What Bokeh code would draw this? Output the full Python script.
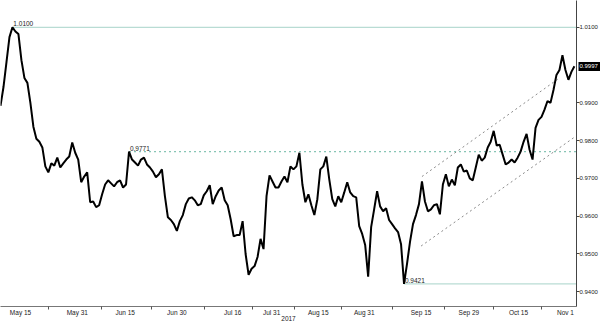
import numpy as np
from bokeh.plotting import figure
from bokeh.models import Range1d, FixedTicker, PrintfTickFormatter, LinearAxis
from bokeh.core.properties import value
from bokeh.embed import file_html
from bokeh.resources import INLINE

# Hourly-ish closes of the pair, one value per bar (bar index = x)
closes = [
    0.9892, 0.9942, 1.0008, 1.0074, 1.0100, 1.0089, 1.0082, 1.0013, 0.9966, 0.9953,
    0.9900, 0.9837, 0.9805, 0.9797, 0.9782, 0.9732, 0.9716, 0.9740, 0.9734, 0.9755,
    0.9729, 0.9740, 0.9750, 0.9758, 0.9795, 0.9768, 0.9750, 0.9690, 0.9705, 0.9716,
    0.9637, 0.9639, 0.9624, 0.9629, 0.9658, 0.9684, 0.9695, 0.9687, 0.9679, 0.9690,
    0.9695, 0.9676, 0.9684, 0.9771, 0.9750, 0.9742, 0.9734, 0.9750, 0.9755, 0.9737,
    0.9729, 0.9718, 0.9703, 0.9711, 0.9724, 0.9653, 0.9597, 0.9590, 0.9579, 0.9561,
    0.9587, 0.9603, 0.9632, 0.9647, 0.9650, 0.9642, 0.9629, 0.9632, 0.9655, 0.9666,
    0.9682, 0.9632, 0.9653, 0.9668, 0.9676, 0.9642, 0.9629, 0.9592, 0.9547, 0.9550,
    0.9550, 0.9587, 0.9500, 0.9445, 0.9461, 0.9468, 0.9492, 0.9540, 0.9513, 0.9653,
    0.9708, 0.9692, 0.9676, 0.9676, 0.9692, 0.9705, 0.9690, 0.9732, 0.9724, 0.9732,
    0.9768, 0.9684, 0.9637, 0.9658, 0.9629, 0.9603, 0.9645, 0.9724, 0.9732, 0.9758,
    0.9697, 0.9645, 0.9626, 0.9653, 0.9637, 0.9663, 0.9690, 0.9663, 0.9653, 0.9650,
    0.9574, 0.9553, 0.9524, 0.9440, 0.9571, 0.9618, 0.9666, 0.9626, 0.9613, 0.9621,
    0.9590, 0.9579, 0.9568, 0.9558, 0.9526, 0.9421, 0.9474, 0.9532, 0.9579, 0.9603,
    0.9632, 0.9692, 0.9639, 0.9613, 0.9618, 0.9629, 0.9632, 0.9605, 0.9684, 0.9711,
    0.9679, 0.9697, 0.9682, 0.9729, 0.9737, 0.9718, 0.9721, 0.9700, 0.9695, 0.9729,
    0.9763, 0.9747, 0.9755, 0.9782, 0.9797, 0.9826, 0.9787, 0.9789, 0.9763, 0.9737,
    0.9742, 0.9750, 0.9742, 0.9755, 0.9771, 0.9797, 0.9818, 0.9776, 0.9750, 0.9834,
    0.9855, 0.9863, 0.9882, 0.9905, 0.9900, 0.9934, 0.9974, 0.9987, 1.0026, 0.9987,
    0.9961, 0.9982, 0.9997,
]

# date tick labels and the bar positions where they sit
date_labels = ["May 15", "May 31", "Jun 15", "Jun 30", "Jul 16", "Jul 31",
               "Aug 15", "Aug 31", "Sep 15", "Sep 29", "Oct 15", "Nov 1"]
date_pos = [6.7, 25.7, 41.7, 59.0, 77.7, 90.7, 106.3, 121.7, 140.7, 156.7, 173.3, 189.0]

# price axis ticks
price_ticks = [0.94, 0.95, 0.96, 0.97, 0.98, 0.99, 1.01]

# horizontal levels (high, resistance, low)
levels = [1.0100, 0.9771, 0.9421]
level_styles = ["solid", "dashed", "solid"]

# rising channel lines
chan_upper_x = [141.0, 187.0]
chan_upper_y = [0.9705, 0.9966]
chan_lower_x = [140.7, 192.7]
chan_lower_y = [0.9521, 0.9813]

x_end = 192.7
y_lo, y_hi = 0.9361, 1.0171

FONT = "Liberation Sans"

p = figure(width=600, height=323, output_backend="svg", toolbar_location=None,
           x_range=Range1d(0, x_end), y_range=Range1d(y_lo, y_hi),
           y_axis_location="right", min_border_left=0, min_border_top=0,
           min_border_right=0, min_border_bottom=15)
p.outline_line_color = None
p.xgrid.visible = False
p.ygrid.visible = False
p.background_fill_color = "white"
p.border_fill_color = "white"

xs = np.arange(len(closes))
ys = np.array(closes)

# level lines
lcol_solid = "#b9dcd4"
lcol_dash = "#86c4b4"
for lv, st in zip(levels, level_styles):
    idx = int(np.where(np.isclose(ys, lv))[0][0])
    if st == "dashed":
        p.ray(x=[idx], y=[lv], length=0, angle=0, line_color=lcol_dash,
              line_width=1.2, line_dash="2 3")
    else:
        p.ray(x=[idx], y=[lv], length=0, angle=0, line_color=lcol_solid, line_width=1.2)
    p.text(x=[idx + 0.3], y=[lv], text=[f"{lv:.4f}"], text_font=value(FONT),
           text_font_size="6.5px", text_color="#222222", text_baseline="bottom",
           y_offset=-1)

# channel
p.line(chan_upper_x, chan_upper_y, line_color="#8a8a8a", line_width=1, line_dash="2 3")
p.line(chan_lower_x, chan_lower_y, line_color="#8a8a8a", line_width=1, line_dash="2 3")

# price line
p.line(xs, ys, line_color="black", line_width=2)

# axes
xa = p.xaxis[0]
mids = [(a + b) / 2 for a, b in zip(date_pos[:-1], date_pos[1:])]
xa.ticker = FixedTicker(ticks=date_pos, minor_ticks=mids)
xa.major_label_overrides = {pos: lab for pos, lab in zip(date_pos, date_labels)}
xa.major_tick_out = 0
xa.major_tick_in = 0
xa.minor_tick_out = 3
xa.minor_tick_in = 0
xa.minor_tick_line_color = "#555555"
xa.axis_line_color = "#777777"
xa.major_label_text_font = FONT
xa.major_label_text_font_size = "6.5px"
xa.major_label_text_color = "#222222"
xa.major_label_standoff = -1
xa.axis_label = "2017"
xa.axis_label_text_font = FONT
xa.axis_label_text_font_size = "6.5px"
xa.axis_label_text_font_style = "normal"
xa.axis_label_text_color = "#222222"
xa.axis_label_standoff = -3

ya = p.yaxis[0]
ya.ticker = FixedTicker(ticks=price_ticks, minor_ticks=[])
ya.formatter = PrintfTickFormatter(format="%.4f")
ya.major_tick_out = 3
ya.major_tick_in = 0
ya.major_tick_line_color = "#444444"
ya.axis_line_color = "#444444"
ya.major_label_text_font = FONT
ya.major_label_text_font_size = "6px"
ya.major_label_text_color = "#222222"
ya.major_label_standoff = 0

# last price tag: an outer axis with a single tick folded back over the price axis
tag_axis = LinearAxis(ticker=FixedTicker(ticks=[float(ys[-1])], minor_ticks=[]),
                      formatter=PrintfTickFormatter(format="%.4f"))
tag_axis.axis_line_color = None
tag_axis.major_tick_out = 0
tag_axis.major_tick_in = 22
tag_axis.major_tick_line_width = 9
tag_axis.major_tick_line_color = "black"
tag_axis.major_label_standoff = -21
tag_axis.major_label_text_font = FONT
tag_axis.major_label_text_font_size = "6px"
tag_axis.major_label_text_color = "white"
p.add_layout(tag_axis, "right")

open("out.html", "w").write(file_html(p, INLINE))
